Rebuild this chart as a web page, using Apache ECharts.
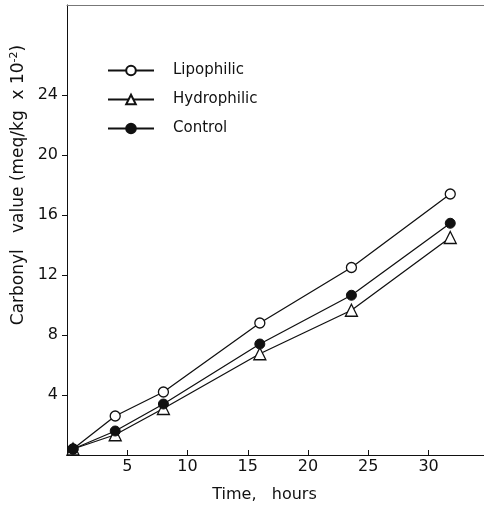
<!DOCTYPE html>
<html>
<head>
<meta charset="utf-8">
<script src="https://cdn.jsdelivr.net/npm/echarts@6/dist/echarts.min.js"></script>
<style>
  html, body { margin: 0; padding: 0; background: #fff; }
  #chart { width: 484px; height: 508px; }
</style>
</head>
<body>
<div id="chart"></div>
<script>
// time (hours) of each sample
var hours = [0.5, 4, 8, 16, 23.6, 31.8];
// carbonyl values, meq/kg x 10^-2
var lipophilic = [0.4, 2.6, 4.2, 8.8, 12.5, 17.4];
var hydrophilic = [0.4, 1.35, 3.1, 6.75, 9.65, 14.5];
var control = [0.4, 1.6, 3.4, 7.4, 10.65, 15.45];
var xTicks = [5, 10, 15, 20, 25, 30];
var yTicks = [4, 8, 12, 16, 20, 24];

function pairs(vals) {
    return hours.map(function (h, i) { return [h, vals[i]]; });
}

var font = 'DejaVu Sans';
var ink = '#111';

var chart = echarts.init(document.getElementById('chart'));

var option = {
    backgroundColor: '#fff',
    animation: false,
    textStyle: { fontFamily: font, color: ink },
    grid: { left: 67, right: 0, top: 5, bottom: 52 },
    legend: {
        orient: 'vertical',
        left: 102,
        top: 58,
        itemWidth: 46,
        itemHeight: 12,
        itemGap: 14,
        textStyle: { fontFamily: font, fontSize: 15, color: ink, padding: [0, 0, 0, 14] },
        data: ['Lipophilic', 'Hydrophilic', 'Control']
    },
    xAxis: [{
        type: 'value',
        min: 0,
        max: 34.6,
        name: 'Time,   hours',
        nameLocation: 'middle',
        nameGap: 32,
        nameTextStyle: { fontSize: 16, color: ink, padding: [0, 22, 0, 0] },
        axisLine: { lineStyle: { color: ink, width: 1 } },
        axisTick: { inside: true, length: 5, customValues: xTicks, lineStyle: { color: ink } },
        axisLabel: { customValues: xTicks, fontSize: 16, color: ink, margin: 4 },
        splitLine: { show: false }
    }, {
        type: 'value',
        position: 'top',
        min: 0,
        max: 34.6,
        axisLine: { show: true, lineStyle: { color: '#777', width: 1 } },
        axisTick: { show: false },
        axisLabel: { show: false },
        splitLine: { show: false }
    }],
    yAxis: {
        type: 'value',
        min: 0,
        max: 30,
        name: 'Carbonyl   value (meq/kg  x 10{sup|-2})',
        nameLocation: 'middle',
        nameGap: 34,
        nameTextStyle: {
            fontSize: 17,
            color: ink,
            padding: [0, 0, 0, 90],
            rich: { sup: { fontSize: 11, verticalAlign: 'top', padding: [0, 0, 8, 0], color: ink } }
        },
        axisLine: { show: true, lineStyle: { color: ink, width: 1 } },
        axisTick: { show: true, inside: false, length: 5, customValues: yTicks, lineStyle: { color: ink } },
        axisLabel: { customValues: yTicks, fontSize: 16, color: ink, margin: 9 },
        splitLine: { show: false }
    },
    series: [{
        name: 'Lipophilic',
        type: 'line',
        data: pairs(lipophilic),
        symbol: 'circle',
        symbolSize: 10,
        itemStyle: { color: '#fff', borderColor: ink, borderWidth: 1.3 },
        lineStyle: { color: ink, width: 1.3 },
        z: 3
    }, {
        name: 'Hydrophilic',
        type: 'line',
        data: pairs(hydrophilic),
        symbol: 'triangle',
        symbolSize: 12,
        itemStyle: { color: '#fff', borderColor: ink, borderWidth: 1.3 },
        lineStyle: { color: ink, width: 1.3 },
        z: 2
    }, {
        name: 'Control',
        type: 'line',
        data: pairs(control),
        symbol: 'circle',
        symbolSize: 10,
        itemStyle: { color: ink, borderColor: ink, borderWidth: 1 },
        lineStyle: { color: ink, width: 1.3 },
        z: 4
    }]
};

chart.setOption(option);
</script>
</body>
</html>
